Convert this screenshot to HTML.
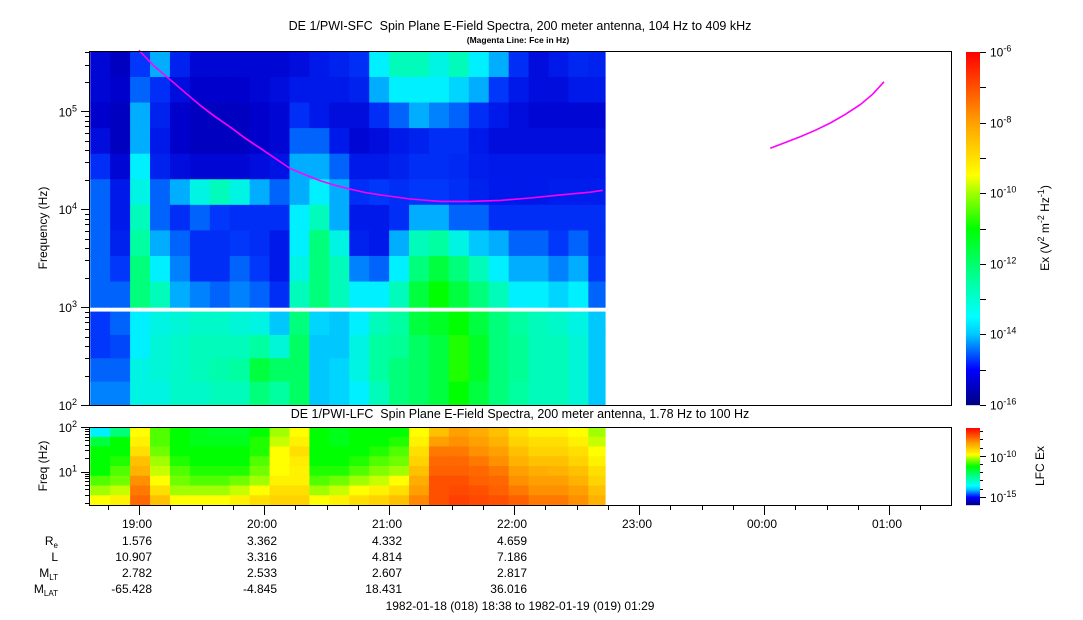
<!DOCTYPE html>
<html><head><meta charset="utf-8">
<style>
html,body{margin:0;padding:0;background:#fff;}
svg{display:block;font-family:"Liberation Sans",Arial,sans-serif;}
</style></head>
<body>
<svg id="chart" width="1083" height="620" viewBox="0 0 1083 620" xmlns="http://www.w3.org/2000/svg">
<text x="520" y="30" font-size="12.5" text-anchor="middle" style="white-space:pre">DE 1/PWI-SFC  Spin Plane E-Field Spectra, 200 meter antenna, 104 Hz to 409 kHz</text>
<text x="518" y="43" font-size="8.5" font-weight="bold" text-anchor="middle">(Magenta Line: Fce in Hz)</text>
<text x="520" y="418" font-size="12.5" text-anchor="middle" style="white-space:pre">DE 1/PWI-LFC  Spin Plane E-Field Spectra, 200 meter antenna, 1.78 Hz to 100 Hz</text>
<g id="sfc"></g>
<g id="lfc"></g>
<g id="axes"></g>
<text transform="translate(47,228) rotate(-90)" font-size="12" text-anchor="middle">Frequency (Hz)</text>
<text transform="translate(47,466) rotate(-90)" font-size="12" text-anchor="middle">Freq (Hz)</text>
<text transform="translate(1049,228) rotate(-90)" font-size="12" text-anchor="middle">Ex (V<tspan dy="-5" font-size="9">2</tspan><tspan dy="5"> m</tspan><tspan dy="-5" font-size="9">-2</tspan><tspan dy="5"> Hz</tspan><tspan dy="-5" font-size="9">-1</tspan><tspan dy="5">)</tspan></text>
<text transform="translate(1044,466) rotate(-90)" font-size="12" text-anchor="middle">LFC Ex</text>
<g font-size="12" text-anchor="end">
<text x="58" y="545">R<tspan dy="3" font-size="8">e</tspan></text>
<text x="58" y="561">L</text>
<text x="58" y="577">M<tspan dy="3" font-size="8">LT</tspan></text>
<text x="58" y="593">M<tspan dy="3" font-size="8">LAT</tspan></text>
</g>
<g id="eph" font-size="12" text-anchor="end"></g>
<text x="520" y="610" font-size="12" text-anchor="middle">1982-01-18 (018) 18:38 to 1982-01-19 (019) 01:29</text>
</svg>
<script>
// ---- data ----
const colStart = 18.61;           // hours UT of first spectra column
const colStep = 0.1594;           // hours per column
// SFC upper band (1 kHz - 409 kHz), rows top->bottom, log10 intensity
const sfcUpper = [
[-15.3,-15.5,-14.3,-13.5,-14.8,-15.3,-15.3,-15.3,-15.3,-15.3,-15.2,-15.0,-14.8,-14.5,-13.0,-12.5,-12.5,-12.8,-12.5,-13.0,-13.5,-14.5,-15.2,-15.0,-14.7,-14.8],
[-15.3,-15.4,-14.0,-14.5,-15.2,-15.4,-15.4,-15.4,-15.3,-15.2,-15.0,-15.0,-15.0,-14.8,-13.5,-13.0,-13.0,-13.0,-13.2,-13.5,-14.3,-15.0,-15.2,-15.2,-15.0,-15.0],
[-15.4,-15.5,-13.5,-14.8,-15.4,-15.5,-15.5,-15.5,-15.4,-15.3,-14.5,-15.0,-15.2,-15.2,-14.5,-14.0,-13.5,-13.8,-14.0,-14.5,-15.0,-15.2,-15.3,-15.3,-15.3,-15.3],
[-15.2,-15.5,-13.5,-15.0,-15.4,-15.5,-15.5,-15.5,-15.4,-15.3,-14.0,-14.0,-15.0,-15.3,-15.2,-15.0,-14.8,-14.5,-14.5,-15.0,-15.2,-15.2,-15.2,-15.2,-15.2,-15.2],
[-14.5,-15.3,-13.0,-14.8,-15.2,-15.3,-15.3,-15.3,-15.2,-15.1,-13.5,-13.5,-14.0,-15.0,-15.0,-14.8,-14.5,-14.5,-14.6,-14.9,-15.0,-15.0,-15.0,-15.0,-15.0,-15.0],
[-14.0,-15.0,-12.8,-14.0,-13.5,-12.8,-12.5,-12.8,-13.5,-14.0,-13.5,-13.0,-13.5,-14.5,-14.3,-14.5,-14.3,-14.3,-14.5,-14.8,-15.0,-15.0,-15.0,-14.9,-14.9,-14.9],
[-14.0,-15.0,-12.5,-14.0,-14.5,-14.0,-14.3,-14.5,-14.5,-14.5,-13.0,-12.5,-13.5,-15.0,-15.0,-14.5,-13.5,-13.5,-14.0,-14.0,-14.5,-14.5,-14.5,-14.5,-14.5,-14.5],
[-14.0,-14.8,-12.3,-13.5,-14.0,-14.5,-14.5,-14.3,-14.5,-15.0,-13.0,-12.0,-12.8,-14.8,-15.0,-13.5,-12.5,-12.3,-12.8,-13.3,-13.5,-14.0,-14.0,-14.3,-14.0,-14.5],
[-14.0,-14.3,-12.0,-13.0,-13.8,-14.5,-14.5,-14.0,-14.3,-15.0,-12.8,-12.0,-12.5,-13.8,-14.0,-13.0,-12.0,-11.5,-12.0,-12.5,-13.0,-13.5,-13.5,-13.8,-13.5,-14.3],
[-14.0,-14.0,-12.0,-12.5,-13.5,-13.8,-14.0,-13.8,-14.0,-14.5,-12.5,-12.0,-12.5,-13.0,-13.0,-12.5,-11.5,-11.0,-11.5,-12.0,-12.5,-13.0,-13.0,-13.2,-13.0,-14.0]
];
// SFC lower band (100 Hz - 900 Hz)
const sfcLower = [
[-14.3,-14.0,-13.0,-12.8,-12.7,-12.6,-12.6,-12.7,-12.8,-13.3,-12.0,-13.2,-13.3,-13.0,-12.5,-12.3,-11.5,-11.3,-11.0,-11.5,-12.0,-12.3,-12.5,-12.6,-12.8,-13.3],
[-14.3,-14.2,-13.0,-12.7,-12.6,-12.5,-12.5,-12.5,-12.3,-12.7,-11.8,-13.3,-13.3,-12.8,-12.3,-12.2,-11.8,-11.5,-10.8,-11.3,-12.0,-12.2,-12.5,-12.5,-12.7,-13.3],
[-14.0,-14.0,-12.8,-12.7,-12.6,-12.5,-12.4,-12.3,-11.5,-11.8,-11.8,-13.3,-13.2,-12.8,-12.3,-12.0,-11.8,-11.5,-10.8,-11.3,-12.0,-12.2,-12.5,-12.5,-12.7,-13.3],
[-13.8,-13.8,-12.8,-12.8,-12.6,-12.6,-12.5,-12.5,-12.0,-12.3,-11.8,-13.3,-13.2,-13.0,-12.5,-12.0,-11.8,-11.5,-11.0,-11.5,-12.0,-12.3,-12.5,-12.5,-12.7,-13.3]
];
// LFC (1.78 - 100 Hz), rows top->bottom
const lfcVals = [
[-13.0,-12.0,-9.5,-10.5,-11.0,-11.2,-11.3,-11.3,-11.0,-10.0,-9.5,-11.0,-11.2,-11.0,-11.0,-11.0,-9.5,-8.5,-8.0,-8.2,-8.5,-9.0,-9.3,-9.3,-9.5,-10.0],
[-11.5,-11.0,-9.3,-10.5,-11.0,-11.2,-11.2,-11.2,-10.8,-9.8,-9.3,-11.0,-11.2,-11.0,-11.0,-10.8,-9.3,-8.0,-7.8,-8.0,-8.3,-8.8,-9.0,-9.0,-9.3,-9.8],
[-11.0,-11.0,-9.0,-10.3,-11.0,-11.0,-11.0,-11.0,-10.8,-9.5,-9.0,-11.0,-11.0,-11.0,-10.8,-10.5,-9.0,-7.5,-7.5,-7.8,-8.0,-8.5,-8.8,-8.8,-9.0,-9.5],
[-11.0,-10.8,-8.5,-10.0,-10.8,-11.0,-11.0,-11.0,-10.5,-9.5,-9.2,-11.0,-11.0,-10.8,-10.5,-10.3,-8.8,-7.3,-7.3,-7.5,-7.8,-8.3,-8.5,-8.5,-8.8,-9.3],
[-11.0,-10.5,-8.3,-9.8,-10.5,-10.8,-10.8,-10.8,-10.3,-9.5,-9.3,-10.8,-10.8,-10.5,-10.2,-10.0,-8.5,-7.2,-7.2,-7.3,-7.5,-8.0,-8.2,-8.3,-8.5,-9.0],
[-10.5,-10.3,-7.8,-9.5,-10.3,-10.5,-10.5,-10.3,-10.0,-9.3,-9.3,-10.5,-10.3,-10.0,-9.8,-9.5,-8.2,-7.0,-7.0,-7.2,-7.3,-7.8,-8.0,-8.0,-8.3,-8.8],
[-10.0,-9.8,-7.5,-9.0,-10.0,-10.0,-10.0,-9.8,-9.5,-9.0,-9.0,-10.0,-9.8,-9.5,-9.3,-9.0,-8.0,-7.0,-6.9,-7.0,-7.2,-7.5,-7.8,-7.8,-8.0,-8.5],
[-9.5,-9.3,-7.3,-8.5,-9.5,-9.5,-9.5,-9.3,-9.0,-8.8,-8.8,-9.5,-9.3,-9.0,-8.8,-8.5,-7.7,-7.0,-6.8,-6.9,-7.0,-7.2,-7.5,-7.5,-7.8,-8.3]
];
// Fce (Hz) vs hours UT, two segments
const fceTimes1 = [19.0,19.12,19.25,19.37,19.49,19.61,19.73,19.85,19.97,20.09,20.21,20.33,20.45,20.57,20.69,20.81,20.93,21.17,21.41,21.65,21.89,22.13,22.37,22.61,22.71];
const fceHz1 = [420000,290000,210000,155000,115000,88000,69000,53000,42000,33000,26000,22500,19500,17500,16000,14800,14000,12700,12000,12000,12300,13000,14000,14900,15600];
const fceTimes2 = [24.05,24.17,24.29,24.41,24.53,24.65,24.77,24.87,24.96];
const fceHz2 = [42000,48000,55000,64000,76000,93000,117000,150000,200000];
const tickHours = ["19:00","20:00","21:00","22:00","23:00","00:00","01:00"];
const ephRe = ["1.576","3.362","4.332","4.659"];
const ephL = ["10.907","3.316","4.814","7.186"];
const ephMLT = ["2.782","2.533","2.607","2.817"];
const ephMLAT = ["-65.428","-4.845","18.431","36.016"];

// ---- scales ----
const NS="http://www.w3.org/2000/svg";
const X0=89,X1=951;
const xT=h=>139+(h-19)*125;
const yF=lf=>405-(lf-2)*97.9;
const yL=lf=>505-(lf-0.25)*(78/1.75);
const stops=[[-16,0,0,128],[-15.4,0,0,205],[-15,0,25,235],[-14.3,0,55,250],[-13.6,0,160,255],[-13.0,0,240,255],[-12.3,0,255,160],[-11,0,255,0],[-10,160,255,0],[-9.5,255,255,0],[-8,255,160,0],[-6,255,0,0]];
function cmap(v){
  if(v<=stops[0][0])return `rgb(${stops[0][1]},${stops[0][2]},${stops[0][3]})`;
  for(let i=1;i<stops.length;i++){
    if(v<=stops[i][0]){const a=stops[i-1],b=stops[i],t=(v-a[0])/(b[0]-a[0]);
      return `rgb(${Math.round(a[1]+t*(b[1]-a[1]))},${Math.round(a[2]+t*(b[2]-a[2]))},${Math.round(a[3]+t*(b[3]-a[3]))})`;}
  }
  return "rgb(255,0,0)";
}
const barStops=[[-16,0,0,128],[-15,0,0,255],[-14,0,200,255],[-13.5,0,255,255],[-12.5,0,255,160],[-11,0,255,0],[-10,160,255,0],[-9.5,255,255,0],[-8,255,160,0],[-6,255,0,0]];
function barMap(v){
  for(let i=1;i<barStops.length;i++){
    if(v<=barStops[i][0]){const a=barStops[i-1],b=barStops[i],t=Math.max(0,(v-a[0])/(b[0]-a[0]));
      return `rgb(${Math.round(a[1]+t*(b[1]-a[1]))},${Math.round(a[2]+t*(b[2]-a[2]))},${Math.round(a[3]+t*(b[3]-a[3]))})`;}
  }
  return "rgb(255,0,0)";
}
const lfcBar=v=>barMap(-16+(v+16)/0.94);
function mk(tag,attrs,parent){const e=document.createElementNS(NS,tag);for(const k in attrs)e.setAttribute(k,attrs[k]);parent.appendChild(e);return e;}

const sfc=document.getElementById('sfc');
function drawGrid(mat,lfTop,lfBot,yfun,colf,parent,name){
  const nr=mat.length,step=(lfTop-lfBot)/nr;
  mat.forEach((row,r)=>{
    const ya=yfun(lfTop-r*step),yb=yfun(lfTop-(r+1)*step);
    row.forEach((v,c)=>{
      const xa=xT(colStart+c*colStep),xb=Math.min(605,xT(colStart+(c+1)*colStep));
      const el=mk('rect',{x:xa.toFixed(2),y:ya.toFixed(2),width:(xb-xa+0.6).toFixed(2),height:(yb-ya+0.6).toFixed(2),fill:colf(v)},parent);
      
      
    });
  });
}
drawGrid(sfcUpper,Math.log10(409000),3,yF,cmap,sfc,'sfc-cell');
drawGrid(sfcLower,Math.log10(900),2,yF,cmap,sfc,'sfc-cell');
const lfc=document.getElementById('lfc');
drawGrid(lfcVals,2,0.25,yL,cmap,lfc,'lfc-cell');

[[fceTimes1,fceHz1],[fceTimes2,fceHz2]].forEach(([ts,fs],i)=>{
  const pts=ts.map((t,k)=>xT(t).toFixed(1)+','+yF(Math.log10(fs[k])).toFixed(1)).join(' ');
  const pl=mk('polyline',{points:pts,fill:'none',stroke:'#ff00ff','stroke-width':1.6},sfc);
  
  
});

const ax=document.getElementById('axes');
function line(x1,y1,x2,y2,p){mk('line',{x1,y1,x2,y2,stroke:'#000','stroke-width':1},p||ax);}
function txt(x,y,s,sup,anchor,fs){const t=mk('text',{x,y,'font-size':fs||12,'text-anchor':anchor||'start'},ax);t.textContent=s;if(sup!==undefined){const sp=mk('tspan',{dy:-5,'font-size':9},t);sp.textContent=sup;}return t;}
const f1=mk('rect',{x:89.5,y:51.5,width:862,height:354,fill:'none',stroke:'#000'},ax);


const f2=mk('rect',{x:89.5,y:427.5,width:862,height:78,fill:'none',stroke:'#000'},ax);


for(let d=2;d<=5;d++){for(let m=1;m<10;m++){const lf=d+Math.log10(m);if(lf>Math.log10(409000))break;const y=Math.round(yF(lf))+0.5;line(m==1?81:85,y,89,y);}
  txt(77,yF(d)+5,'10',String(d),'end');}
for(let d=0;d<=2;d++){for(let m=1;m<10;m++){const lf=d+Math.log10(m);if(lf<0.25||lf>2)continue;const y=Math.round(yL(lf))+0.5;line(m==1?81:85,y,89,y);}}
txt(77,yL(2)+5,'10','2','end');txt(77,yL(1)+5,'10','1','end');
for(let q=0;q<=27;q++){const h=18.75+q*0.25;const x=Math.round(xT(h))+0.5;if(x<X0||x>X1)continue;const major=(q%4==1);line(x,505,x,major?515:510);}
tickHours.forEach((s,i)=>{txt(xT(19+i)+13,528,s,undefined,'end');});
const eph=document.getElementById('eph');
[ephRe,ephL,ephMLT,ephMLAT].forEach((arr,r)=>{arr.forEach((s,i)=>{const t=mk('text',{x:xT(19+i)+13,y:545+r*16},eph);t.textContent=s;});});
const cb=mk('g',{},ax);


for(let y=52;y<405;y++){const v=-16+(405-y-0.5)/35.3;mk('rect',{x:966,y,width:14,height:1.2,fill:barMap(v)},cb);}
for(let d=-16;d<=-6;d++){const y=Math.round(405-(d+16)*35.3)+0.5;line(980,y,986,y);if(d%2==0)txt(990,y+4,'10',String(d));}
const cb2=mk('g',{},ax);


for(let y=428;y<505;y++){const v=-16+(505-y-0.5)/8.2;mk('rect',{x:966,y,width:14,height:1.2,fill:lfcBar(v)},cb2);}
for(let d=-15;d<=-7;d++){const y=Math.round(505-(d+16)*8.2)+0.5;line(980,y,(d==-10||d==-15)?986:983,y);}
txt(990,462,'10','-10');txt(990,502,'10','-15');
</script>
</body></html>
